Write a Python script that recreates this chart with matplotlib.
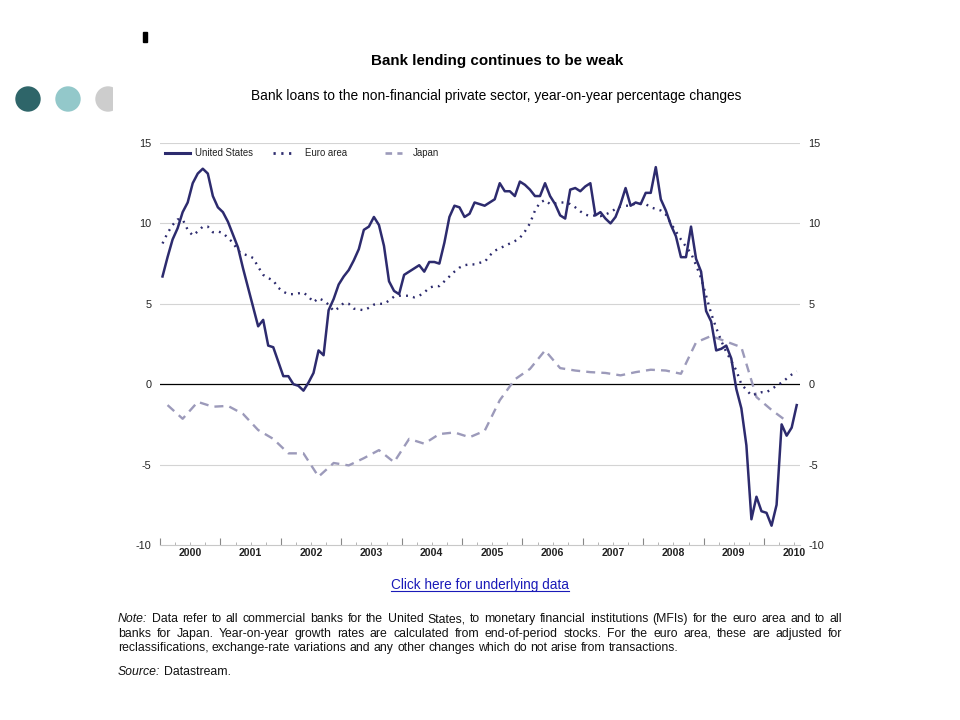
import numpy as np
import matplotlib
matplotlib.use("Agg")
import matplotlib.pyplot as plt
import matplotlib.patches as mpatches
import matplotlib.lines as mlines
import matplotlib.transforms as mtrans

plt.rcParams["font.family"] = ["Liberation Sans", "DejaVu Sans"]

# ──────────────────────────────────────────────
# DATA (year-on-year % changes)
# ──────────────────────────────────────────────
START_YEAR = 2000

# monthly, from Jan 2000
us_loans = [6.7, 7.9, 9.0, 9.7, 10.7, 11.3, 12.5, 13.1, 13.4, 13.1, 11.7, 11.0,
            10.7, 10.1, 9.3, 8.5, 7.2, 6.0, 4.8, 3.6, 4.0, 2.4, 2.3, 1.4,
            0.5, 0.5, 0.0, -0.1, -0.4, 0.1, 0.7, 2.1, 1.8, 4.6, 5.3, 6.2,
            6.7, 7.1, 7.7, 8.4, 9.6, 9.8, 10.4, 9.9, 8.6, 6.4, 5.8, 5.6,
            6.8, 7.0, 7.2, 7.4, 7.0, 7.6, 7.6, 7.5, 8.8, 10.4, 11.1, 11.0,
            10.4, 10.6, 11.3, 11.2, 11.1, 11.3, 11.5, 12.5, 12.0, 12.0, 11.7, 12.6,
            12.4, 12.1, 11.7, 11.7, 12.5, 11.7, 11.2, 10.5, 10.3, 12.1, 12.2, 12.0,
            12.3, 12.5, 10.5, 10.7, 10.3, 10.0, 10.4, 11.2, 12.2, 11.1, 11.3, 11.2,
            11.9, 11.9, 13.5, 11.5, 10.8, 9.9, 9.2, 7.9, 7.9, 9.8, 7.8, 7.0,
            4.55, 3.9, 2.1, 2.2, 2.4, 1.6, -0.3, -1.5, -3.8, -8.4, -7.0, -7.9,
            -8.0, -8.8, -7.5, -2.5, -3.2, -2.7, -1.3]

euro_loans = [8.75, 9.4, 9.9, 10.25, 10.25, 9.6, 9.25, 9.5, 9.8, 9.8, 9.45, 9.5,
              9.4, 9.1, 8.8, 8.3, 8.1, 8.0, 7.85, 7.3, 6.8, 6.6, 6.45, 6.0,
              5.75, 5.6, 5.6, 5.65, 5.7, 5.45, 5.1, 5.35, 5.2, 4.95, 4.55, 4.75,
              5.05, 5.0, 4.7, 4.65, 4.6, 4.75, 4.95, 5.0, 5.0, 5.2, 5.45, 5.5,
              5.5, 5.5, 5.4, 5.5, 5.7, 6.0, 6.1, 6.1, 6.4, 6.7, 7.0, 7.25,
              7.4, 7.45, 7.45, 7.55, 7.6, 8.0, 8.3, 8.45, 8.6, 8.75, 8.9, 9.1,
              9.5, 10.0, 10.8, 11.3, 11.45, 11.2, 11.25, 11.3, 11.3, 11.2, 11.0, 10.75,
              10.55, 10.45, 10.5, 10.45, 10.55, 10.7, 10.9, 11.05, 11.1, 11.1, 11.25, 11.25,
              11.2, 11.0, 10.9, 10.8, 10.55, 10.0, 9.5, 9.0, 8.55, 8.15, 7.4, 6.6,
              5.5, 4.4, 3.5, 2.7, 2.0, 1.45, 0.85, 0.0, -0.35, -0.7, -0.6, -0.5,
              -0.5, -0.3, -0.1, 0.1, 0.35, 0.6, 0.8]

# quarterly, from Q1 2000
japan_loans = [-1.3, -2.15, -1.1, -1.4, -1.35, -1.85, -2.85, -3.4, -4.3, -4.3, -5.75, -4.9,
               -5.05, -4.6, -4.1, -4.85, -3.4, -3.7, -3.1, -3.0, -3.3, -2.9, -1.0, 0.3,
               0.95, 2.1, 1.0, 0.85, 0.75, 0.7, 0.55, 0.75, 0.9, 0.85, 0.65, 2.6,
               3.0, 2.65, 2.3, -0.8, -1.6, -2.3]

years = list(range(2000, 2011))
y_ticks = [-10, -5, 0, 5, 10, 15]

TITLE = "Bank lending continues to be weak"
SUBTITLE = "Bank loans to the non-financial private sector, year-on-year percentage changes"

NAVY = "#2D2B6E"
LAVENDER = "#9C9ABA"

# ──────────────────────────────────────────────
# FIGURE
# ──────────────────────────────────────────────
W, H = 960, 720
fig = plt.figure(figsize=(W / 100, H / 100), dpi=100)

# background axes in pixel coordinates for page decoration and texts
bg = fig.add_axes([0, 0, 1, 1], zorder=0)
bg.set_xlim(0, W)
bg.set_ylim(H, 0)
bg.axis("off")

bg.add_patch(mpatches.Rectangle((143, 32), 4, 10, color="black"))
for cx, col in [(28, "#2E6569"), (68, "#93C8CA"), (108, "#CDCDCD")]:
    c = mpatches.Circle((cx, 99), 12, color=col)
    bg.add_patch(c)
    if cx == 108:
        clip = mpatches.Rectangle((90, 80), 23, 40, transform=bg.transData)
        c.set_clip_path(clip)

bg.text(497, 61, TITLE, ha="center", va="center", fontsize=10.9, fontweight="bold")
bg.text(496, 96, SUBTITLE, ha="center", va="center", fontsize=9.9)

# main chart
ax = fig.add_axes([160 / W, 1 - 545 / H, 640 / W, 402 / H], zorder=1)
ax.patch.set_alpha(0)

x_month = START_YEAR + (np.arange(len(us_loans)) + 0.5) / 12
x_euro = START_YEAR + (np.arange(len(euro_loans)) + 0.5) / 12
x_quarter = START_YEAR + (np.arange(len(japan_loans)) * 3 + 1.5) / 12

for yv in [15, 10, 5, -5]:
    ax.axhline(yv, color="#D4D4D4", lw=0.8, zorder=1)
ax.axhline(0, color="black", lw=0.9, zorder=2)

ax.plot(x_quarter, japan_loans, color=LAVENDER, lw=1.7, ls=(0, (3.8, 2.6)), zorder=3)
ax.plot(x_euro, euro_loans, color=NAVY, lw=1.7, ls=(0, (0.8, 2.2)),
        dash_capstyle="butt", zorder=4)
ax.plot(x_month, us_loans, color=NAVY, lw=1.8, zorder=5)

ax.set_xlim(2000, 2010.596)
ax.set_ylim(-10, 15)

for s in ["top", "left", "right"]:
    ax.spines[s].set_visible(False)
ax.spines["bottom"].set_color("#C8C8C8")
ax.spines["bottom"].set_linewidth(0.8)

ax.set_yticks(y_ticks)
ax.set_yticklabels([str(v) for v in y_ticks])
ax.tick_params(axis="y", length=0, labelsize=7.8, labelright=True,
               pad=6, colors="#222222")
ax.tick_params(axis="y", which="both", right=False, left=False)

ax.set_xticks(years)
ax.set_xticks([y + q / 4 for y in years[:-1] for q in (1, 2, 3)] + [2010.25, 2010.5], minor=True)
ax.set_xticklabels([])
ax.tick_params(axis="x", which="major", direction="in", length=5, width=0.8, color="#888888")
ax.tick_params(axis="x", which="minor", direction="in", length=2, width=0.6, color="#AAAAAA")

blend = mtrans.blended_transform_factory(ax.transData, ax.transAxes)
for yr in years:
    ax.text(yr + 0.5, -0.02, str(yr), transform=blend, ha="center", va="center",
            fontsize=7.6, fontweight="bold", color="#222222")

# legend (manual, inside top of plot)
ly = 0.976
legend_items = [
    ("United States", dict(color=NAVY, lw=2.2), 0.008, 0.047, 0.055),
    ("Euro area", dict(color=NAVY, lw=2.0, ls=(0, (0.8, 2.0))), 0.176, 0.207, 0.227),
    ("Japan", dict(color=LAVENDER, lw=1.9, ls=(0, (2.5, 2.0))), 0.352, 0.378, 0.395),
]
for label, style, x0, x1, xt in legend_items:
    ax.add_line(mlines.Line2D([x0, x1], [ly, ly], transform=ax.transAxes, **style))
    ax.text(xt, ly, label, transform=ax.transAxes, va="center", fontsize=6.9, color="#222222")

# link text
link = bg.text(480, 585, "Click here for underlying data", ha="center", va="center",
               fontsize=9.8, color="#1A1AB8")

# ──────────────────────────────────────────────
# NOTE (justified lines)
# ──────────────────────────────────────────────
fig.canvas.draw()
renderer = fig.canvas.get_renderer()

lb = link.get_window_extent(renderer)
bg.plot([lb.x0, lb.x1], [H - lb.y0 - 1, H - lb.y0 - 1], color="#1A1AB8", lw=0.8)

NOTE_SIZE = 8.8


def text_width(s, style):
    t = bg.text(0, 0, s, fontsize=NOTE_SIZE, style=style)
    w = t.get_window_extent(renderer).width
    t.remove()
    return w


def draw_line(words, y, x0, x1, justify):
    # words: list of lists of (string, style) pieces; y is the baseline
    widths = [sum(text_width(s, st) for s, st in w) for w in words]
    space = text_width("a a", "normal") - 2 * text_width("a", "normal")
    if justify and len(words) > 1:
        gap = (x1 - x0 - sum(widths)) / (len(words) - 1)
    else:
        gap = space
    x = x0
    for w, wd in zip(words, widths):
        xp = x
        for s, st in w:
            bg.text(xp, y, s, fontsize=NOTE_SIZE, style=st, va="baseline", ha="left",
                    color="#111111")
            xp += text_width(s, st)
        x += wd + gap


def plain(s):
    return [[(w, "normal")] for w in s.split()]


note_lines = [
    [[("Note:", "italic")]] + plain(
        "Data refer to all commercial banks for the United States, to monetary "
        "financial institutions (MFIs) for the euro area and to all"),
    plain("banks for Japan. Year-on-year growth rates are calculated from end-of-period "
          "stocks. For the euro area, these are adjusted for"),
    plain("reclassifications, exchange-rate variations and any other changes which "
          "do not arise from transactions."),
]
draw_line(note_lines[0], 622, 118, 842, True)
draw_line(note_lines[1], 637, 118, 842, True)
draw_line(note_lines[2], 651, 118, 842, False)
draw_line([[("Source:", "italic")]] + plain("Datastream."), 675, 118, 842, False)

fig.savefig("out.png", dpi=100)
